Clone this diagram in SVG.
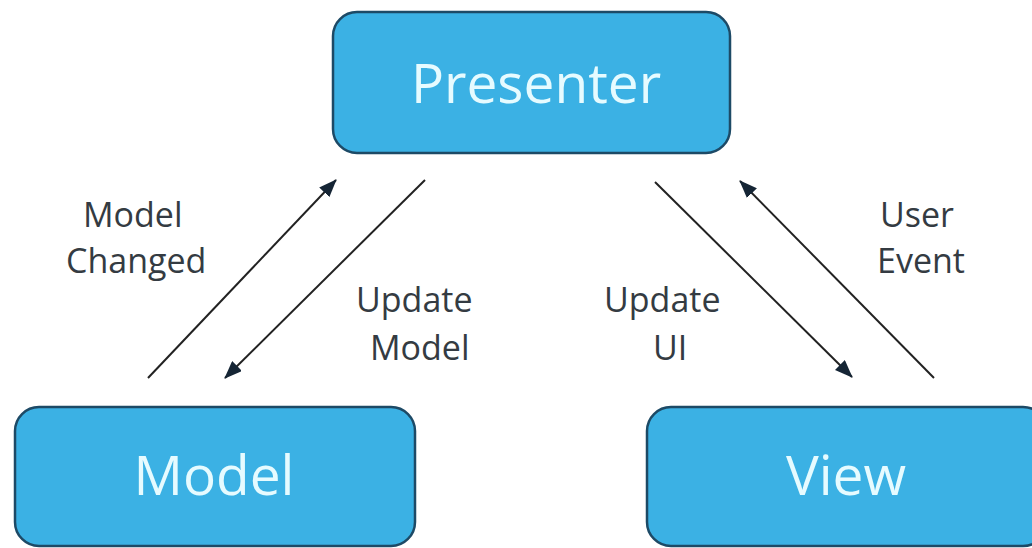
<svg xmlns="http://www.w3.org/2000/svg" width="1032" height="548" viewBox="0 0 1032 548">
  <style>
    .box { fill: #3bb1e4; stroke: #1d4a66; stroke-width: 2.5; }
    .title { font-family: "Open Sans", "Noto Sans", sans-serif; font-size: 55px; fill: #e6fbff; text-anchor: middle; }
    .lbl { font-family: "Open Sans", "Noto Sans", sans-serif; font-size: 34px; fill: #343b42; }
    .wire { stroke: #222; stroke-width: 2; fill: none; marker-end: url(#head); }
  </style>
  <defs>
    <marker id="head" viewBox="0 0 18 14" refX="17" refY="7" markerWidth="18" markerHeight="14" markerUnits="userSpaceOnUse" orient="auto">
      <path d="M0,0 L18,7 L0,14 Z" fill="#152535"/>
    </marker>
  </defs>
  <rect width="1032" height="548" fill="#ffffff"/>

  <g id="presenter">
    <rect class="box" x="333" y="12" width="397" height="141" rx="24"/>
    <text class="title" x="536" y="103">Presenter</text>
  </g>
  <g id="model">
    <rect class="box" x="15" y="407" width="400" height="139" rx="24"/>
    <text class="title" x="214" y="495">Model</text>
  </g>
  <g id="view">
    <rect class="box" x="647" y="407" width="400" height="139" rx="24"/>
    <text class="title" x="846" y="495">View</text>
  </g>

  <g id="connectors">
    <line class="wire" x1="148" y1="378" x2="336" y2="180"/>
    <line class="wire" x1="425" y1="180" x2="225" y2="378"/>
    <line class="wire" x1="655" y1="182" x2="852" y2="377"/>
    <line class="wire" x1="934" y1="378" x2="740" y2="181"/>
  </g>

  <g id="labels">
    <text class="lbl" x="83" y="227">Model</text>
    <text class="lbl" x="66" y="273">Changed</text>
    <text class="lbl" x="356" y="312">Update</text>
    <text class="lbl" x="370" y="360">Model</text>
    <text class="lbl" x="604" y="312">Update</text>
    <text class="lbl" x="653" y="360">UI</text>
    <text class="lbl" x="880" y="227">User</text>
    <text class="lbl" x="877" y="273">Event</text>
  </g>
</svg>
